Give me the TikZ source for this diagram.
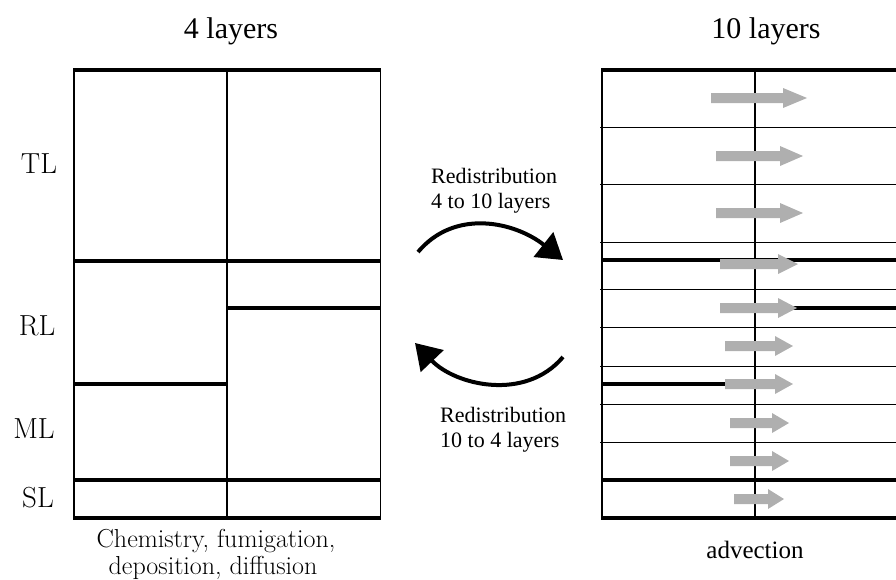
\documentclass[tikz,border=0pt]{standalone}
\usepackage{fontspec}
\newfontfamily\timesf{Liberation Serif}
\usetikzlibrary{arrows.meta}
\definecolor{advgray}{RGB}{175,175,175}
\tikzset{
  thickln/.style={line width=3.3pt},
  thinln/.style={line width=1pt},
  vln/.style={line width=2.4pt},
  edgeln/.style={line width=1.5pt},
  redis/.style={line width=4pt, -{Triangle[length=25pt,width=31pt]}},
  ttl/.style={font=\timesf\fontsize{30}{34}\selectfont, inner sep=0pt, anchor=base},
  lyr/.style={font=\fontsize{29}{33}\selectfont, inner sep=0pt, anchor=base},
  rdl/.style={font=\timesf\fontsize{22}{26}\selectfont, inner sep=0pt, anchor=base west},
  chemcap/.style={font=\fontsize{26}{30}\selectfont, inner sep=0pt, anchor=base},
  advcap/.style={font=\timesf\fontsize{25}{29}\selectfont, inner sep=0pt, anchor=base}
}
\begin{document}
\begin{tikzpicture}[x=1pt,y=-1pt]
\useasboundingbox (0,0) rectangle (896,579);
% titles
\node[ttl] (t4) at (231,38) {4 layers};
\node[ttl] (t10) at (766,38) {10 layers};
% layer labels
\node[lyr] (tl) at (39,173) {TL};
\node[lyr] (rl) at (37,335) {RL};
\node[lyr] (ml) at (34,438) {ML};
\node[lyr] (sl) at (38,507) {SL};
% left panel
\draw[edgeln] (74,70) -- (74,518);
\draw[thinln] (380,70) -- (380,518);
\draw[vln] (227,70) -- (227,518);
\draw[thickln] (73,70) -- (381,70);
\draw[thickln] (73,518) -- (381,518);
\draw[thickln] (74,261) -- (380,261);
\draw[thickln] (227,308) -- (380,308);
\draw[thickln] (74,384) -- (227,384);
\draw[thickln] (74,480) -- (380,480);
\node[chemcap] (c1) at (216,547) {Chemistry, fumigation,};
\node[chemcap] (c2) at (213,574) {deposition, diffusion};
% right panel
\draw[edgeln] (602,70) -- (602,518);
\foreach \yy in {127,184,242,289,327,366,404,442}
  \draw[thinln] (600,\yy) -- (896,\yy);
\draw[vln] (755,70) -- (755,518);
\draw[thickln] (601,70) -- (896,70);
\draw[thickln] (601,518) -- (896,518);
\draw[thickln] (602,260) -- (896,260);
\draw[thickln] (755,308) -- (896,308);
\draw[thickln] (602,384) -- (755,384);
\draw[thickln] (602,480) -- (896,480);
% advection arrows
\foreach \yy/\a/\h/\t in {98/711/783/807,156/716/780/803,213/716/780/803,264/720/778/798,308/720/778/797,346/725/775/793,384/725/775/793,423/730/772/789,461/730/772/789,499/734/768/784}
  \fill[advgray] (\a,\yy-5) -- (\h,\yy-5) -- (\h,\yy-10) -- (\t,\yy) -- (\h,\yy+10) -- (\h,\yy+5) -- (\a,\yy+5) -- cycle;
\node[advcap] (adv) at (755,558) {advection};
% redistribution arrows
\coordinate (r1s) at (418,252);
\coordinate (r1e) at (563,260);
\draw[redis] (r1s) .. controls (455,208) and (515,222) .. (r1e);
\coordinate (r2s) at (563,357);
\coordinate (r2e) at (415,343);
\draw[redis] (r2s) .. controls (525,402) and (455,385) .. (r2e);
\node[rdl] (ra1) at (431,183) {Redistribution};
\node[rdl] (ra2) at (431,208) {4 to 10 layers};
\node[rdl] (rb1) at (440,422) {Redistribution};
\node[rdl] (rb2) at (440,447) {10 to 4 layers};
\end{tikzpicture}
\end{document}
